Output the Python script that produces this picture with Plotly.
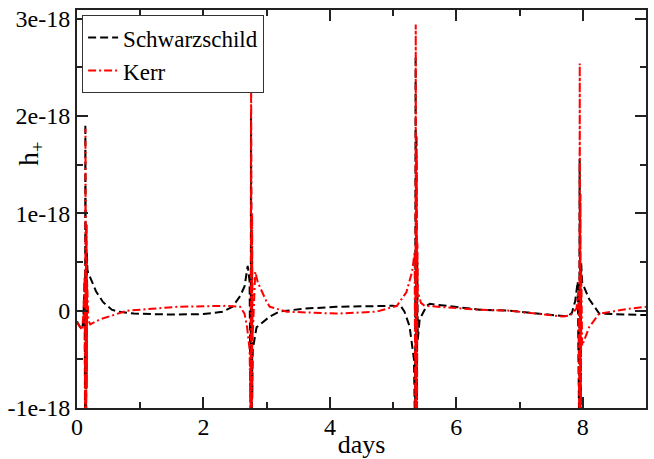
import plotly.graph_objects as go

SCALE = 1e-18

# Schwarzschild: days and h+ (units of 1e-18)
schw_days = [0.00, 0.04, 0.08, 0.10, 0.12, 0.128, 0.132, 0.136, 0.140, 0.144, 0.148, 0.152, 0.156, 0.165, 0.18, 0.21,
             0.30, 0.41, 0.55, 0.65, 0.90, 1.50, 2.00, 2.30, 2.46, 2.58, 2.65, 2.70, 2.73,
             2.748, 2.752, 2.756, 2.760, 2.764, 2.768, 2.772, 2.78, 2.84, 3.05, 3.20, 3.57,
             4.10, 4.99, 5.13, 5.18, 5.26, 5.33, 5.348, 5.356, 5.364, 5.370, 5.376, 5.382, 5.39, 5.42, 5.53, 5.58,
             6.37, 6.84, 7.68, 7.76, 7.83, 7.88, 7.92, 7.944, 7.950, 7.956, 7.962, 7.968, 7.974, 7.99, 8.10, 8.26, 9.00]
schw_h = [-0.11, -0.16, -0.19, -0.10, 0.30, -1.30, 1.92, -1.30, 1.40, -1.30, 0.90, -0.80, 0.60, 0.42, 0.38, 0.34,
          0.20, 0.09, 0.01, -0.01, -0.03, -0.04, -0.035, -0.01, 0.04, 0.15, 0.25, 0.46, 0.30,
          -1.30, 2.04, -1.30, 1.30, -1.30, 0.80, -0.90, -0.40, -0.17, -0.06, -0.01, 0.02,
          0.04, 0.05, 0.04, -0.01, -0.16, -0.50, -1.30, 2.62, -1.30, 1.80, -1.30, 0.50, -0.30, -0.09, 0.05, 0.07,
          0.01, 0.00, -0.06, -0.06, -0.02, 0.10, 0.30, -1.30, 1.56, -1.30, 1.00, -1.30, 0.50, 0.29, 0.12, -0.03, -0.045]

# Kerr: days and h+ (units of 1e-18)
kerr_days = [0.00, 0.04, 0.08, 0.10, 0.12, 0.130, 0.134, 0.138, 0.142, 0.146, 0.150, 0.154, 0.160, 0.18, 0.21,
             0.36, 0.79, 1.58, 2.37, 2.58, 2.65, 2.69, 2.73,
             2.750, 2.754, 2.758, 2.762, 2.766, 2.770, 2.776, 2.82, 2.86, 3.00, 3.05, 3.32,
             4.10, 4.74, 5.06, 5.21, 5.30, 5.34, 5.352, 5.358, 5.366, 5.372, 5.378, 5.384, 5.39, 5.44, 5.50,
             6.37, 6.84, 7.68, 7.80, 7.90, 7.93, 7.946, 7.952, 7.958, 7.964, 7.970, 7.976, 7.99, 8.10, 8.26, 8.74, 9.00]
kerr_h = [-0.12, -0.16, -0.20, -0.05, 0.35, -1.30, 1.87, -1.30, 1.30, -1.30, 0.90, -0.60, 0.30, -0.10, -0.14,
          -0.09, 0.00, 0.04, 0.05, 0.04, -0.03, -0.17, -0.40,
          -1.30, 2.62, -1.30, 1.50, -1.30, 1.00, -0.30, 0.40, 0.29, 0.09, 0.04, -0.01,
          -0.03, -0.01, 0.05, 0.19, 0.40, 0.60, -1.30, 2.94, -1.30, 1.60, -1.30, 0.70, 0.20, 0.08, 0.05,
          0.01, 0.00, -0.06, -0.05, 0.02, 0.20, -1.30, 2.54, -1.30, 1.20, -1.30, 0.40, -0.36, -0.17, -0.03, 0.02, 0.04]

y_tickvals = [-1e-18, 0, 1e-18, 2e-18, 3e-18]
y_ticktext = ["-1e-18", "0", "1e-18", "2e-18", "3e-18"]
x_tickvals = [0, 2, 4, 6, 8]
x_ticktext = ["0", "2", "4", "6", "8"]

FONT = "Liberation Serif, Times New Roman, serif"

fig = go.Figure()
fig.add_trace(go.Scatter(
    x=schw_days, y=[v * SCALE for v in schw_h], mode="lines", name="Schwarzschild",
    line=dict(color="#000000", width=2, dash="8px,4px")))
fig.add_trace(go.Scatter(
    x=kerr_days, y=[v * SCALE for v in kerr_h], mode="lines", name="Kerr",
    line=dict(color="#ff0000", width=2, dash="8px,3px,2px,3px")))

axis_common = dict(showline=True, mirror="ticks", linecolor="#222222", linewidth=2,
                   ticks="inside", ticklen=11, tickwidth=1.5, tickcolor="#222222",
                   showgrid=False, zeroline=False, automargin=False,
                   tickfont=dict(family=FONT, size=24, color="#000000"))

fig.update_xaxes(range=[0, 9], tickmode="array", tickvals=x_tickvals, ticktext=x_ticktext,
                 ticklabelstandoff=-4,
                 minor=dict(ticks="inside", ticklen=6, tickwidth=1.5, tickcolor="#222222", dtick=1, tick0=0),
                 title=dict(text="days", font=dict(family=FONT, size=26, color="#000000")),
                 **axis_common)
fig.update_yaxes(range=[-1e-18, 3.09e-18], tickmode="array", tickvals=y_tickvals, ticktext=y_ticktext,
                 minor=dict(ticks="inside", ticklen=6, tickwidth=1.5, tickcolor="#222222", dtick=0.5e-18, tick0=0),
                 **axis_common)

fig.add_annotation(text="h<sub>+</sub>", xref="paper", yref="paper", x=-0.08, y=0.64,
                   xanchor="center", yanchor="middle", textangle=-90, showarrow=False,
                   font=dict(family=FONT, size=27, color="#000000"))

fig.update_layout(
    width=654, height=459,
    margin=dict(l=77, r=8, t=10, b=51),
    paper_bgcolor="white", plot_bgcolor="white",
    showlegend=True,
    legend=dict(x=0.009, y=0.987, xanchor="left", yanchor="top",
                bgcolor="white", bordercolor="#333333", borderwidth=1,
                font=dict(family=FONT, size=23, color="#000000"),
                tracegroupgap=0, itemwidth=30),
)

fig.write_html("out.html")
